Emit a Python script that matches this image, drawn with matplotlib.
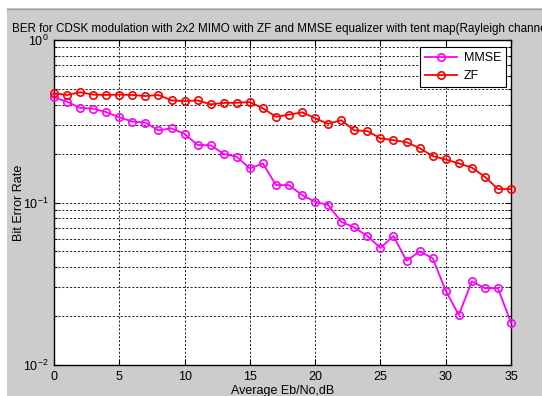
import numpy as np
import matplotlib
matplotlib.use("Agg")
import matplotlib.pyplot as plt
from matplotlib.patches import Rectangle
from matplotlib.lines import Line2D
from matplotlib.ticker import LogLocator, FixedLocator

plt.rcParams['font.family'] = ['Liberation Sans', 'DejaVu Sans']
plt.rcParams['mathtext.fontset'] = 'custom'
plt.rcParams['mathtext.rm'] = 'Liberation Sans'
plt.rcParams['mathtext.it'] = 'Liberation Sans:italic'
plt.rcParams['mathtext.bf'] = 'Liberation Sans:bold'

snr_db = list(range(36))
ber_mmse = [0.444, 0.417, 0.382, 0.378, 0.360, 0.334, 0.315, 0.310, 0.278, 0.286,
            0.264, 0.226, 0.225, 0.199, 0.191, 0.162, 0.174, 0.128, 0.128, 0.111,
            0.101, 0.0965, 0.0761, 0.0702, 0.0622, 0.0525, 0.0622, 0.0438, 0.0500, 0.0454,
            0.0287, 0.0203, 0.0327, 0.0297, 0.0297, 0.0182]
ber_zf = [0.470, 0.459, 0.477, 0.461, 0.459, 0.461, 0.459, 0.452, 0.459, 0.425,
          0.421, 0.425, 0.402, 0.410, 0.411, 0.415, 0.380, 0.337, 0.347, 0.359,
          0.330, 0.305, 0.321, 0.278, 0.275, 0.248, 0.242, 0.235, 0.216, 0.193,
          0.184, 0.174, 0.164, 0.144, 0.121, 0.121]
xticks = [0, 5, 10, 15, 20, 25, 30, 35]
title = "BER for CDSK modulation with 2x2 MIMO with ZF and MMSE equalizer with tent map(Rayleigh channel)"

W, H = 542, 396
fig = plt.figure(figsize=(W / 100, H / 100), dpi=100, facecolor='#cccccc')
# white border at top/left like the screenshot
fig.patches.append(Rectangle((0, (H - 8) / H), 1, 8 / H, transform=fig.transFigure,
                             facecolor='white', edgecolor='none', zorder=-10))
fig.patches.append(Rectangle((0, 0), 7 / W, 1, transform=fig.transFigure,
                             facecolor='white', edgecolor='none', zorder=-10))
fig.add_artist(Line2D([7 / W, 1], [(H - 8.5) / H, (H - 8.5) / H], transform=fig.transFigure,
                      color='#a0a0a0', lw=1))

ax = fig.add_axes([54 / W, (H - 365) / H, (511 - 54) / W, (365 - 40) / H])
ax.set_facecolor('white')
ax.semilogy(snr_db, ber_mmse, color='#ff00ff', lw=1.3, marker='o', ms=5.3,
            mfc='none', mew=1.2, label='MMSE', clip_on=False, zorder=3)
ax.semilogy(snr_db, ber_zf, color='#ff0000', lw=1.3, marker='o', ms=5.3,
            mfc='none', mew=1.2, label='ZF', clip_on=False, zorder=3)

ax.set_xlim(0, 35)
ax.set_ylim(1e-2, 1)
ax.xaxis.set_major_locator(FixedLocator(xticks))
ax.yaxis.set_major_locator(LogLocator(base=10))
ax.yaxis.set_minor_locator(LogLocator(base=10, subs=np.arange(2, 10)))
ax.yaxis.set_minor_formatter(matplotlib.ticker.NullFormatter())

grid_kw = dict(color='#222222', lw=0.7, linestyle=(0, (2.2, 1.8)))
ax.grid(True, which='major', axis='both', **grid_kw)
ax.grid(True, which='minor', axis='y', **grid_kw)
ax.set_axisbelow(True)

ax.tick_params(which='both', direction='in', top=True, right=True, labelsize=9,
               colors='black', width=0.8)
ax.tick_params(which='major', length=4, pad=4)
ax.tick_params(which='minor', length=2)
for s in ax.spines.values():
    s.set_linewidth(1.0)
    s.set_color('black')

ax.set_title(title, fontsize=8.35, pad=6)
ax.set_xlabel('Average Eb/No,dB', fontsize=9, labelpad=2)
ax.set_ylabel('Bit Error Rate', fontsize=9)
ax.yaxis.set_label_coords(-0.063, 0.5)

leg = ax.legend(loc='upper right', bbox_to_anchor=(506 / W, (H - 47) / H),
                bbox_transform=fig.transFigure, fontsize=9, frameon=True,
                fancybox=False, edgecolor='black', framealpha=1, borderpad=0.4,
                handlelength=2.6, handletextpad=0.5, labelspacing=0.5,
                numpoints=1, borderaxespad=0)
leg.get_frame().set_linewidth(0.8)

fig.savefig('out.png', dpi=100, facecolor=fig.get_facecolor())
